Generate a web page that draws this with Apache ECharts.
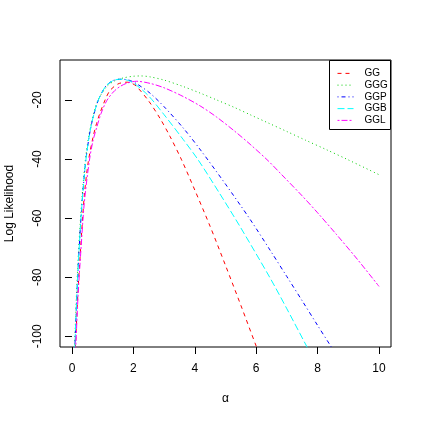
<!DOCTYPE html>
<html>
<head>
<meta charset="utf-8">
<script src="https://cdn.jsdelivr.net/npm/echarts@6/dist/echarts.min.js"></script>
<style>html,body{margin:0;padding:0;background:#fff}#c{width:422px;height:422px}</style>
</head>
<body>
<div id="c"></div>
<script>
const seriesNames = ['GG', 'GGG', 'GGP', 'GGB', 'GGL'];
const xTicks = [0, 2, 4, 6, 8, 10];
const yTicks = [-100, -80, -60, -40, -20];

const ggX = [0.07, 0.12, 0.2, 0.28, 0.4, 0.53, 0.69, 0.8, 0.91, 1.1, 1.24, 1.5, 1.8, 1.95, 2.1, 2.5, 2.87, 3.2, 3.57, 4.0, 4.5, 5.0, 5.5, 6.0, 6.2];
const ggY = [-115, -102, -84, -70.5, -52.5, -41, -32.4, -28, -24.5, -19.5, -16.8, -14.6, -14.0, -14.4, -15.4, -20.4, -26.3, -32.5, -40.3, -50.5, -62.8, -76.0, -89.5, -103.3, -108.5];

const gggX = [0.05, 0.09, 0.15, 0.22, 0.32, 0.44, 0.55, 0.64, 0.75, 0.86, 1.13, 1.4, 1.7, 2.0, 2.25, 2.54, 3.0, 3.63, 4.2, 4.71, 5.3, 5.8, 6.39, 7.0, 7.6, 8.3, 9.0, 10];
const gggY = [-115, -102, -85, -70, -54, -40, -32, -27.5, -23, -19.8, -15.5, -13.5, -12.5, -12.0, -11.9, -12.2, -13.3, -15.5, -17.8, -20, -22.6, -25, -27.8, -30.7, -33.6, -36.9, -40.3, -45.3];

const ggpX = [0.06, 0.1, 0.16, 0.23, 0.32, 0.44, 0.55, 0.64, 0.75, 0.86, 1.0, 1.13, 1.35, 1.6, 1.85, 2.1, 2.54, 3.0, 3.63, 4.19, 5.0, 5.8, 6.45, 7.0, 7.53, 8.0, 8.44, 8.7];
const ggpY = [-115, -102, -86, -71, -56, -41.5, -33, -28, -23.5, -20, -17, -15, -13.4, -13.0, -13.3, -14.5, -17.7, -22.3, -29.6, -37, -48.5, -60.4, -70.8, -79.8, -88.5, -96.3, -103.5, -107.8];

const ggbX = [0.06, 0.1, 0.16, 0.23, 0.32, 0.44, 0.55, 0.64, 0.75, 0.86, 1.0, 1.13, 1.35, 1.6, 1.85, 2.1, 2.5, 3.0, 3.63, 4.11, 4.8, 5.47, 6.45, 7.0, 7.64, 7.9];
const ggbY = [-115, -102, -86, -71, -56, -41.5, -33, -28, -23.5, -20, -17, -15, -13.4, -13.0, -13.5, -15, -18.7, -25, -33.5, -40.3, -51.5, -62.8, -80.2, -90.7, -103.3, -108.5];

const gglX = [0.08, 0.13, 0.2, 0.29, 0.4, 0.56, 0.68, 0.8, 0.95, 1.13, 1.35, 1.56, 1.8, 2.1, 2.54, 3.0, 3.63, 4.2, 4.71, 5.3, 5.8, 6.39, 6.83, 7.5, 8.0, 8.62, 9.3, 10];
const gglY = [-115, -102, -86, -71, -55, -41, -34, -29.5, -24.5, -20.3, -17.3, -15.5, -14.3, -13.7, -14.4, -15.9, -18.9, -22.2, -25.8, -30.6, -35.0, -40.6, -45.3, -52.5, -58.2, -65.6, -74.0, -83.1];

const colors = ['#FF0000', '#00CD00', '#0000FF', '#00FFFF', '#FF00FF'];
const dashes = [[4, 4], [1, 3], [1, 3, 4, 3], [7, 3], [2, 2, 6, 2]];
const xs = [ggX, gggX, ggpX, ggbX, gglX];
const ys = [ggY, gggY, ggpY, ggbY, gglY];

const font = 'Liberation Sans, Arial, Helvetica, sans-serif';

const series = seriesNames.map((n, i) => ({
  name: n,
  type: 'line',
  data: xs[i].map((x, j) => [x, ys[i][j]]),
  smooth: 0.3,
  symbol: 'none',
  clip: true,
  lineStyle: { color: colors[i], width: 1, type: dashes[i] },
  itemStyle: { color: colors[i] },
  z: 2
}));

const chart = echarts.init(document.getElementById('c'), null, { renderer: 'canvas' });
chart.setOption({
  animation: false,
  backgroundColor: '#fff',
  grid: { left: 60, top: 60, width: 331, height: 287, outerBoundsMode: 'none', containLabel: false, show: true, borderColor: '#000', borderWidth: 1, backgroundColor: 'transparent' },
  xAxis: {
    type: 'value', min: -0.39, max: 10.39,
    splitLine: { show: false },
    axisLine: { show: false },
    axisTick: { show: true, inside: false, length: 7, customValues: xTicks, lineStyle: { color: '#000' } },
    axisLabel: { customValues: xTicks, margin: 16, fontSize: 12, color: '#000', fontFamily: font },
    name: 'α', nameLocation: 'middle', nameGap: 46,
    nameTextStyle: { fontSize: 12, color: '#000', fontFamily: font }
  },
  yAxis: {
    type: 'value', min: -103.6, max: -6.5,
    splitLine: { show: false },
    axisLine: { show: false },
    axisTick: { show: true, inside: false, length: 7, customValues: yTicks, lineStyle: { color: '#000' } },
    axisLabel: { customValues: yTicks, margin: 16, rotate: 90, fontSize: 12, color: '#000', fontFamily: font },
    name: 'Log Likelihood', nameLocation: 'middle', nameGap: 44,
    nameTextStyle: { fontSize: 12, color: '#000', fontFamily: font }
  },
  legend: {
    orient: 'vertical', left: 337, top: 67.5, padding: 0,
    itemWidth: 16, itemHeight: 8, itemGap: 0,
    data: seriesNames,
    textStyle: { fontSize: 10, lineHeight: 11.75, color: '#000', fontFamily: font, padding: [0, 0, 0, 6] },
    lineStyle: { width: 1 },
    itemStyle: { color: 'transparent', borderWidth: 0, opacity: 0 },
    z: 5
  },
  graphic: [{
    type: 'rect', shape: { x: 329.5, y: 60.5, width: 61, height: 69 },
    style: { fill: '#fff', stroke: '#000', lineWidth: 1 }, z: 4
  }],
  series: series
});
</script>
</body>
</html>
